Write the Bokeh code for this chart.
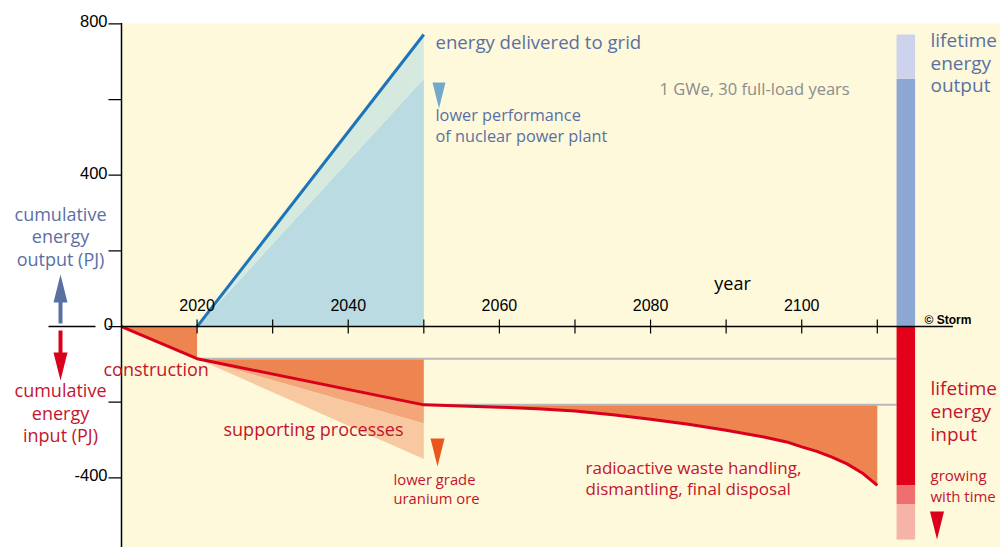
from bokeh.plotting import figure
from bokeh.core.properties import value
from bokeh.embed import file_html
from bokeh.resources import INLINE

# ---------------- data (PJ, cumulative) ----------------
out_years = [2020, 2050]
delivered = [0, 772]          # energy delivered to grid
delivered_lower = [0, 655]    # lower performance of plant

constr_years = [2010, 2020]
constr_input = [0, -85]

support_years = [2020, 2050]
support_input = [-85, -207]
support_ore1 = [-85, -256]    # lower grade uranium ore (step 1)
support_ore2 = [-85, -350]    # lower grade uranium ore (step 2)

waste_years = [2050, 2055, 2060, 2065, 2070, 2075, 2080, 2085, 2090, 2095,
               2098, 2100, 2102, 2104, 2106, 2108, 2110]
waste_input = [-207, -210, -213, -217, -223, -233, -245, -258, -274, -292,
               -305, -318, -330, -345, -363, -387, -420]

x_ticks = [2020, 2030, 2040, 2050, 2060, 2070, 2080, 2090, 2100, 2110]
x_label_years = [2020, 2040, 2060, 2080, 2100]
y_ticks = [-400, 0, 400, 800]
y_minor = [-200, 200, 600]

# ---------------- colours ----------------
CREAM = "#FEF9DA"
BLUE_TXT = "#5A70A3"
RED_TXT = "#C3142E"
RED = "#D9001C"
ORANGE = "#EE844F"
SALMON = "#F3A67A"
PEACH = "#F8C9A0"
LBLUE = "#B9DBE1"
LGREEN = "#D6E9DF"
LINE_BLUE = "#1C74BB"

# page pixel -> data helpers (annotation placement only)
def X(px):
    return 2010 + (px - 121) / 7.558

def Y(py):
    return (326.05 - py) / 0.37834

TXT_SHIFT = -7  # baseline correction in screen px

p = figure(width=1000, height=547, x_range=(X(0), X(1000)), y_range=(Y(547), Y(0)),
           min_border_left=0, min_border_right=0, min_border_top=0, min_border_bottom=0,
           toolbar_location=None, output_backend="svg",
           x_axis_location=None, y_axis_location=None,
           background_fill_color="white", border_fill_color="white", outline_line_color=None)
p.grid.visible = False

# plot area background
p.quad(left=[2010], right=[X(1000)], bottom=[Y(547)], top=[Y(23)], fill_color=CREAM, line_color=None)

# ---------------- output side ----------------
p.varea(x=out_years, y1=[0, 0], y2=delivered_lower, fill_color=LBLUE)
p.varea(x=out_years, y1=delivered_lower, y2=delivered, fill_color=LGREEN)

# ---------------- input side ----------------
p.varea(x=constr_years, y1=[0, 0], y2=constr_input, fill_color=ORANGE)
base_s = [constr_input[-1]] * len(support_years)
p.varea(x=support_years, y1=base_s, y2=support_input, fill_color=ORANGE)
p.varea(x=support_years, y1=support_input, y2=support_ore1, fill_color=SALMON)
p.varea(x=support_years, y1=support_ore1, y2=support_ore2, fill_color=PEACH)
base_w = [waste_input[0]] * len(waste_years)
p.varea(x=waste_years, y1=base_w, y2=waste_input, fill_color=ORANGE)

bar_left, bar_right = 2112.55, 2115.0
p.segment(x0=[constr_years[-1], support_years[-1]], y0=[constr_input[-1], support_input[-1]],
          x1=[bar_left, bar_left], y1=[constr_input[-1], support_input[-1]],
          line_color="#B8B8B8", line_width=2)

red_x = constr_years + support_years[1:] + waste_years[1:]
red_y = constr_input + support_input[1:] + waste_input[1:]
p.line(red_x, red_y, line_color=RED, line_width=3, line_join="round")
p.line(out_years, delivered, line_color=LINE_BLUE, line_width=3)

# ---------------- lifetime bars ----------------
ore1_extra = support_ore1[-1] - support_input[-1]
ore2_extra = support_ore2[-1] - support_input[-1]
tot_in = waste_input[-1]
p.quad(left=[bar_left] * 5, right=[bar_right] * 5,
       bottom=[0, delivered_lower[-1], tot_in, tot_in + ore1_extra, tot_in + ore2_extra],
       top=[delivered_lower[-1], delivered[-1], 0, tot_in, tot_in + ore1_extra],
       fill_color=["#8CA7D3", "#CDD3EC", "#E2001A", "#EF6F70", "#F5B4A6"], line_color=None)

# ---------------- y axis (at x = 2010) ----------------
p.segment(x0=[2010], y0=[Y(547)], x1=[2010], y1=[Y(22.5)], line_color="black", line_width=1.5)
all_y = y_ticks + y_minor
p.segment(x0=[X(108)] * len(all_y), y0=all_y, x1=[2010] * len(all_y), y1=all_y,
          line_color="black", line_width=1.2)
p.text(x=[X(112.5) if t == 0 else X(107) for t in y_ticks], y=y_ticks, text=[str(t) for t in y_ticks],
       text_font=value("Liberation Sans"), text_font_size=value("16.5px"), text_color="black",
       text_align="right", text_baseline="middle", y_offset=-2.5)

# ---------------- x axis (at y = 0) ----------------
half = 7 / 0.37834
p.segment(x0=[2010], y0=[0], x1=[2120], y1=[0], line_color="black", line_width=1.5)
p.segment(x0=x_ticks, y0=[-half] * len(x_ticks), x1=x_ticks, y1=[half] * len(x_ticks),
          line_color="black", line_width=1.2)
p.text(x=x_label_years, y=[Y(311)] * len(x_label_years), text=[str(v) for v in x_label_years],
       text_font=value("Liberation Sans"), text_font_size=value("16px"), text_color="black",
       text_align="center", text_baseline="alphabetic", y_offset=TXT_SHIFT)
p.text(x=[X(732)], y=[Y(289)], text=["year"], text_font=value("Open Sans"),
       text_font_size=value("18px"), text_color="black", text_align="center",
       text_baseline="alphabetic", y_offset=TXT_SHIFT)
p.text(x=[X(924)], y=[Y(324)], text=["© Storm"], text_font=value("Liberation Sans"),
       text_font_size=value("12px"), text_font_style="bold", text_color="black",
       text_align="left", text_baseline="alphabetic", y_offset=TXT_SHIFT + 2)

# ---------------- marker triangles ----------------
def tri(cx, top, w, h, up=False):
    if up:
        return [X(cx - w / 2), X(cx + w / 2), X(cx)], [Y(top + h), Y(top + h), Y(top)]
    return [X(cx - w / 2), X(cx + w / 2), X(cx)], [Y(top), Y(top), Y(top + h)]

tris = [tri(438.5, 82, 13, 26), tri(437, 438, 14, 28), tri(936.5, 511, 14, 28),
        tri(60, 274, 14, 28, up=True), tri(60, 352, 14, 28)]
p.patches(xs=[t[0] for t in tris], ys=[t[1] for t in tris],
          fill_color=["#72A9C9", "#E8581C", RED, "#5A70A3", RED], line_color=None)

# arrow shafts and the short line between them
p.segment(x0=[X(60), X(60)], y0=[Y(323), Y(330)], x1=[X(60), X(60)], y1=[Y(300), Y(354)],
          line_color=["#5A70A3", RED], line_width=4)
p.segment(x0=[X(48)], y0=[0], x1=[X(95)], y1=[0], line_color="black", line_width=1.5)

# ---------------- texts ----------------
def txt(px, py, s, color, size, align="left"):
    p.text(x=[X(px)], y=[Y(py)], text=[s], text_font=value("Open Sans"),
           text_font_size=value(size), text_color=color, text_align=align,
           text_baseline="alphabetic", y_offset=TXT_SHIFT)

txt(435, 48, "energy delivered to grid", BLUE_TXT, "18.6px")
txt(435, 121.5, "lower performance", BLUE_TXT, "16.3px")
txt(435, 142.5, "of nuclear power plant", BLUE_TXT, "16.3px")
txt(659, 95, "1 GWe, 30 full-load years", "#8C8C8C", "16.5px")
for i, s in enumerate(["lifetime", "energy", "output"]):
    txt(930, 46.5 + 22.7 * i, s, BLUE_TXT, "19px")
txt(223, 435, "supporting processes", RED_TXT, "18px")
txt(393, 485, "lower grade", RED_TXT, "14.8px")
txt(393, 504.5, "uranium ore", RED_TXT, "14.8px")
txt(585, 473.5, "radioactive waste handling,", RED_TXT, "17px")
txt(585, 495, "dismantling, final disposal", RED_TXT, "17px")
for i, s in enumerate(["lifetime", "energy", "input"]):
    txt(930, 394 + 23 * i, s, RED_TXT, "19px")
txt(930, 481.5, "growing", RED_TXT, "15px")
txt(930, 502.5, "with time", RED_TXT, "15px")

for i, s in enumerate(["cumulative", "energy", "output (PJ)"]):
    txt(60, 220 + 22.8 * i, s, BLUE_TXT, "18px", "center")
for i, s in enumerate(["cumulative", "energy", "input (PJ)"]):
    txt(60, 396.7 + 22.5 * i, s, RED_TXT, "18px", "center")
txt(103, 375, "construction", RED_TXT, "18px")

open("out.html", "w").write(file_html(p, INLINE))
